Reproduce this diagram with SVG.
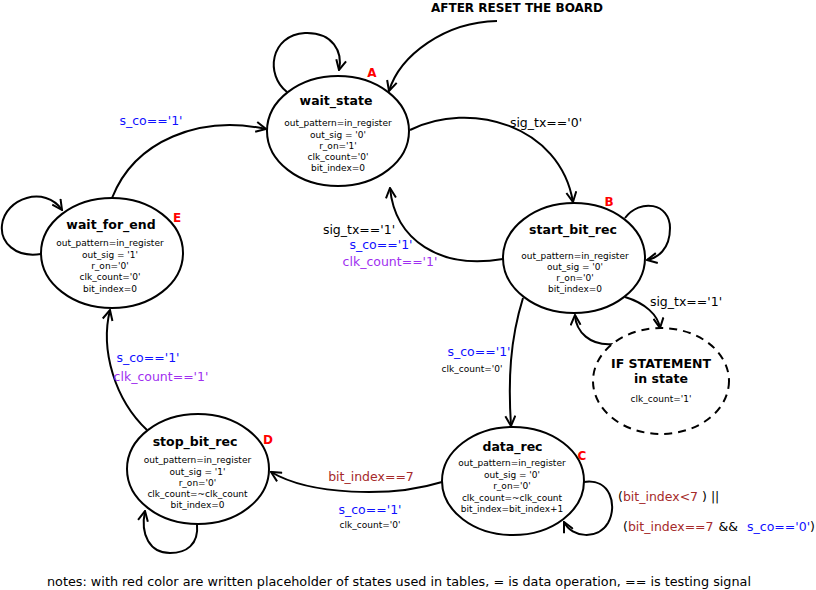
<svg xmlns="http://www.w3.org/2000/svg" width="816" height="590" viewBox="0 0 816 590">
<defs>
<marker id="arr" viewBox="0 0 12 12" refX="11" refY="6" markerWidth="12" markerHeight="12" markerUnits="userSpaceOnUse" orient="auto">
<path d="M1,1 L11,6 L1,11" fill="none" stroke="#000" stroke-width="2"/>
</marker>
<style>
.st{fill:#fff;stroke:#000;stroke-width:2}
.dash{fill:#fff;stroke:#000;stroke-width:2;stroke-dasharray:8,6}
.c{fill:none;stroke:#000;stroke-width:2;marker-end:url(#arr)}
text{font-family:"DejaVu Sans","Liberation Sans",sans-serif}
.t{font-size:12.5px;font-weight:bold;text-anchor:middle;fill:#000}
.b{font-size:9px;text-anchor:middle;fill:#000}
.id{font-size:12px;font-weight:bold;text-anchor:middle;fill:#f00}
.l{font-size:12.5px;text-anchor:middle}
.k{fill:#000}
.bl{fill:#1010ff}
.pu{fill:#a030f0}
.br{fill:#a52a2a}
</style>
</defs>
<rect width="816" height="590" fill="#fff"/>

<g id="connectors">
<path class="c" d="M497,21 C445,22 400,55 389,91"/>
<path class="c" d="M287,92 C265,75 270,35 305,33 C333,32 343,52 339,70"/>
<path class="c" d="M410,130 C470,100 560,125 573,202"/>
<path class="c" d="M503,259 C440,270 395,240 390,188"/>
<path class="c" d="M625,218 C640,198 670,203 670,228 C670,250 657,258 647,260"/>
<path class="c" d="M625,297 C645,303 658,315 660,328"/>
<path class="c" d="M613,344 C590,346 576,332 575,315"/>
<path class="c" d="M523,298 C510,340 508,380 511,426"/>
<path class="c" d="M442,482 C390,498 310,495 271,472"/>
<path class="c" d="M584,482 C610,478 618,505 608,523 C598,540 572,538 564,522"/>
<path class="c" d="M197,524 C199,545 186,553 170,553 C150,553 140,535 145,511"/>
<path class="c" d="M147,430 C115,400 100,350 110,310"/>
<path class="c" d="M112,198 C135,140 200,115 266,129"/>
<path class="c" d="M41,254 C15,258 0,242 2,225 C5,198 45,185 62,210"/>
</g>

<g id="labels">
<text x="517" y="12" class="t" style="font-size:12px">AFTER RESET THE BOARD</text>
<text x="546" y="127" class="l k">sig_tx=='0'</text>
<text x="359" y="233.5" class="l k">sig_tx=='1'</text>
<text x="381" y="249" class="l bl">s_co=='1'</text>
<text x="390" y="265.5" class="l pu">clk_count=='1'</text>
<text x="686" y="306" class="l k">sig_tx=='1'</text>
<text x="479" y="356" class="l bl">s_co=='1'</text>
<text x="472" y="372" class="b">clk_count='0'</text>
<text x="371" y="481" class="l br">bit_index==7</text>
<text x="370" y="513.5" class="l bl">s_co=='1'</text>
<text x="370" y="527.5" class="b">clk_count='0'</text>
<text x="148" y="362" class="l bl">s_co=='1'</text>
<text x="161" y="380.5" class="l pu">clk_count=='1'</text>
<text x="151" y="125" class="l bl">s_co=='1'</text>
<text x="618" y="501" style="font-size:12.5px"><tspan class="k">(</tspan><tspan class="br">bit_index&lt;7</tspan><tspan class="k"> ) ||</tspan></text>
<text x="623" y="531" style="font-size:12.5px"><tspan class="k">(</tspan><tspan class="br">bit_index==7</tspan><tspan class="k" dx="1"> &amp;&amp; </tspan><tspan class="bl" dx="5">s_co=='0'</tspan><tspan class="k">)</tspan></text>
<text x="47" y="586" style="font-size:12px" textLength="704" lengthAdjust="spacingAndGlyphs">notes: with red color are written placeholder of states used in tables, = is data operation, == is testing signal</text>
</g>

<g id="wait_state">
<ellipse class="st" cx="338" cy="131" rx="71" ry="55"/>
<text x="336" y="105" class="t">wait_state</text>
<text x="338" y="126" class="b">out_pattern=in_register</text>
<text x="338" y="137.5" class="b">out_sig = '0'</text>
<text x="338" y="148.5" class="b">r_on='1'</text>
<text x="338" y="160" class="b">clk_count='0'</text>
<text x="338" y="171" class="b">bit_index=0</text>
<text x="372" y="77" class="id">A</text>
</g>

<g id="start_bit_rec">
<ellipse class="st" cx="574" cy="258" rx="71" ry="55"/>
<text x="573" y="233.5" class="t">start_bit_rec</text>
<text x="575" y="258.5" class="b">out_pattern=in_register</text>
<text x="575" y="270" class="b">out_sig = '0'</text>
<text x="575" y="281" class="b">r_on='0'</text>
<text x="575" y="292" class="b">bit_index=0</text>
<text x="609" y="206" class="id">B</text>
</g>

<g id="wait_for_end">
<ellipse class="st" cx="112" cy="253" rx="71" ry="55"/>
<text x="111" y="228.5" class="t">wait_for_end</text>
<text x="110" y="246" class="b">out_pattern=in_register</text>
<text x="110" y="258.3" class="b">out_sig = '1'</text>
<text x="110" y="269.3" class="b">r_on='0'</text>
<text x="110" y="280.3" class="b">clk_count='0'</text>
<text x="110" y="291.6" class="b">bit_index=0</text>
<text x="177" y="222" class="id">E</text>
</g>

<g id="stop_bit_rec">
<ellipse class="st" cx="198" cy="469" rx="71" ry="55"/>
<text x="195" y="445.5" class="t">stop_bit_rec</text>
<text x="197.5" y="462.6" class="b">out_pattern=in_register</text>
<text x="197.5" y="475" class="b">out_sig = '1'</text>
<text x="197.5" y="486" class="b">r_on='0'</text>
<text x="197.5" y="497.3" class="b">clk_count=~clk_count</text>
<text x="197.5" y="508.3" class="b">bit_index=0</text>
<text x="268" y="444" class="id">D</text>
</g>

<g id="data_rec">
<ellipse class="st" cx="513" cy="481" rx="71" ry="54"/>
<text x="512.5" y="450.5" class="t">data_rec</text>
<text x="512" y="466" class="b">out_pattern=in_register</text>
<text x="512" y="478.3" class="b">out_sig = '0'</text>
<text x="512" y="489" class="b">r_on='0'</text>
<text x="512" y="500.6" class="b">clk_count=~clk_count</text>
<text x="512" y="511.6" class="b">bit_index=bit_index+1</text>
<text x="582" y="460" class="id">C</text>
</g>

<g id="if_statement">
<ellipse class="dash" cx="661" cy="381" rx="68" ry="53"/>
<text x="661" y="367.5" class="t">IF STATEMENT</text>
<text x="661" y="383" class="t">in state</text>
<text x="661" y="402" class="b">clk_count='1'</text>
</g>
</svg>
